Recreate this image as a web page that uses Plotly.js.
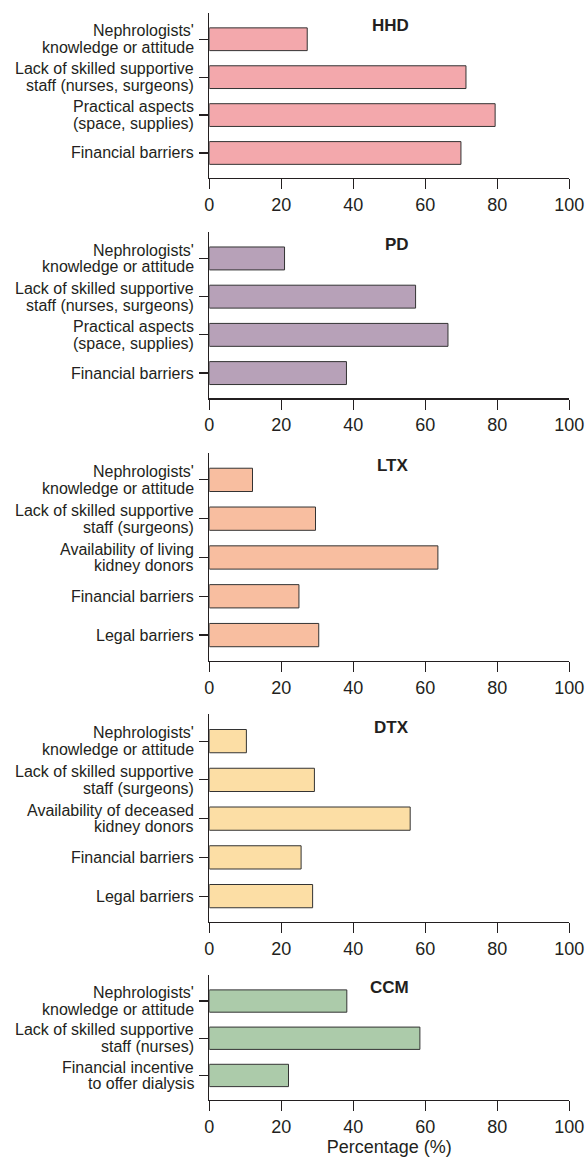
<!DOCTYPE html>
<html>
<head>
<meta charset="utf-8">
<script src="https://cdn.plot.ly/plotly-3.0.1.min.js"></script>
<style>html,body{margin:0;padding:0;background:#fff;}#chart{width:586px;height:1157px;}</style>
</head>
<body>
<div id="chart"></div>
<script>
// ---- Data ----
const panelNames = ["HHD", "PD", "LTX", "DTX", "CCM"];

const hhdLabels = ["Nephrologists'<br>knowledge or attitude", "Lack of skilled supportive<br>staff (nurses, surgeons)", "Practical aspects<br>(space, supplies)", "Financial barriers"];
const hhdValues = [27.2, 71.3, 79.4, 69.9];

const pdLabels = ["Nephrologists'<br>knowledge or attitude", "Lack of skilled supportive<br>staff (nurses, surgeons)", "Practical aspects<br>(space, supplies)", "Financial barriers"];
const pdValues = [20.9, 57.3, 66.3, 38.1];

const ltxLabels = ["Nephrologists'<br>knowledge or attitude", "Lack of skilled supportive<br>staff (surgeons)", "Availability of living<br>kidney donors", "Financial barriers", "Legal barriers"];
const ltxValues = [12.0, 29.5, 63.5, 24.9, 30.4];

const dtxLabels = ["Nephrologists'<br>knowledge or attitude", "Lack of skilled supportive<br>staff (surgeons)", "Availability of deceased<br>kidney donors", "Financial barriers", "Legal barriers"];
const dtxValues = [10.3, 29.2, 55.8, 25.5, 28.7];

const ccmLabels = ["Nephrologists'<br>knowledge or attitude", "Lack of skilled supportive<br>staff (nurses)", "Financial incentive<br>to offer dialysis"];
const ccmValues = [38.2, 58.5, 22.0];

const xTickVals = [0, 20, 40, 60, 80, 100];
const xTitle = "Percentage (%)";

// ---- Styles ----
const colors = ["#F3A8AC", "#B7A1B8", "#F8BEA0", "#FCDEA5", "#ACCBAA"];
const W = 586, H = 1157;
const FONT = "Liberation Sans, Arial, Helvetica, sans-serif";
const TXT = "#231f20";
// pixel top / bottom of each panel's plot area
const panelPx = [[12.7, 178], [231.7, 398.3], [452.7, 660.7], [714, 921.7], [975, 1100]];
const xDom = [209.3 / W, 569.3 / W];

const labelsList = [hhdLabels, pdLabels, ltxLabels, dtxLabels, ccmLabels];
const valuesList = [hhdValues, pdValues, ltxValues, dtxValues, ccmValues];

const data = [];
const layout = {
  width: W, height: H,
  margin: {l: 0, r: 0, t: 0, b: 0},
  paper_bgcolor: "#fff", plot_bgcolor: "#fff",
  showlegend: false,
  bargap: 0.4,
  font: {family: FONT, color: TXT},
  annotations: []
};

for (let i = 0; i < 5; i++) {
  const sfx = i === 0 ? "" : String(i + 1);
  const xa = "x" + sfx, ya = "y" + sfx;
  const n = labelsList[i].length;
  data.push({
    type: "bar", orientation: "h",
    x: valuesList[i], y: labelsList[i],
    xaxis: xa, yaxis: ya,
    marker: {color: colors[i], line: {color: "#333333", width: 1}},
    hoverinfo: "x+y"
  });
  const top = panelPx[i][0], bot = panelPx[i][1];
  layout["xaxis" + sfx] = {
    anchor: ya, domain: xDom, range: [0, 100], fixedrange: true,
    tickvals: xTickVals, ticktext: xTickVals.map(String),
    showline: true, linecolor: TXT, linewidth: 1.2,
    ticks: "outside", ticklen: 10, tickwidth: 1.2, tickcolor: TXT,
    showgrid: false, zeroline: false,
    tickfont: {family: FONT, size: 18, color: TXT},
    title: i === 4 ? {text: xTitle, font: {family: FONT, size: 18, color: TXT}, standoff: 4} : {text: ""}
  };
  layout["yaxis" + sfx] = {
    anchor: xa, domain: [1 - bot / H, 1 - top / H],
    type: "category", categoryorder: "array", categoryarray: labelsList[i],
    range: [n - 1 + 0.66, -0.7],
    showline: true, linecolor: TXT, linewidth: 1.2,
    ticks: "outside", ticklen: 9, tickwidth: 1.2, tickcolor: TXT,
    showticklabels: false, showgrid: false, zeroline: false
  };
  // panel title
  layout.annotations.push({
    text: "<b>" + panelNames[i] + "</b>", xref: xa, yref: ya + " domain",
    x: 56, y: 1, xanchor: "right", yanchor: "middle", yshift: -13,
    showarrow: false, font: {family: FONT, size: 17, color: TXT}
  });
  // category labels, line by line for tight leading
  labelsList[i].forEach(function (lab) {
    const lines = lab.split("<br>");
    const lh = 16.7;
    lines.forEach(function (ln, k) {
      const off = (k - (lines.length - 1) / 2) * lh;
      layout.annotations.push({
        text: ln, xref: "paper", yref: ya, x: 196 / W, y: lab,
        xanchor: "right", yanchor: "middle", yshift: -off,
        showarrow: false, font: {family: FONT, size: 16, color: TXT}
      });
    });
  });
}

Plotly.newPlot("chart", data, layout, {staticPlot: true, displayModeBar: false});
</script>
</body>
</html>
